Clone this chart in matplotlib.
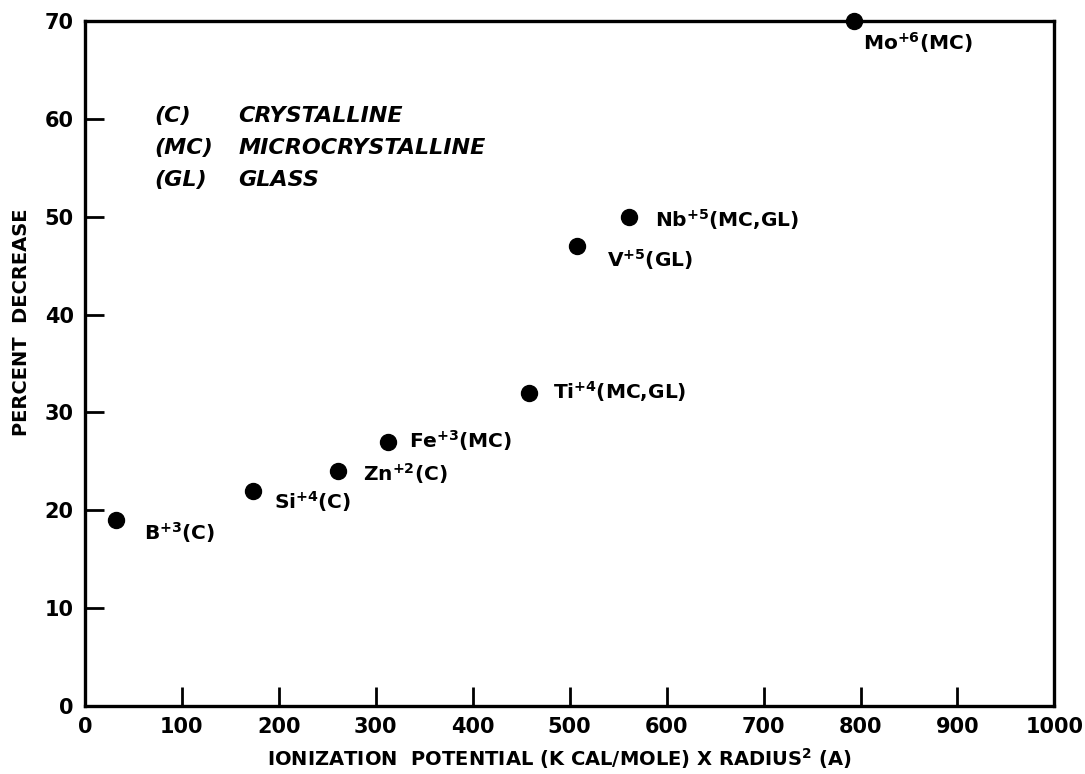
import matplotlib
matplotlib.use("Agg")
import matplotlib.pyplot as plt

plt.rcParams["font.family"] = ["DejaVu Sans"]
plt.rcParams["font.weight"] = "bold"
plt.rcParams["mathtext.default"] = "bf"

# ion data: ionization potential x radius^2, percent decrease
ions = ["B", "Si", "Zn", "Fe", "Ti", "V", "Nb", "Mo"]
charges = ["+3", "+4", "+2", "+3", "+4", "+5", "+5", "+6"]
phases = ["(C)", "(C)", "(C)", "(MC)", "(MC,GL)", "(GL)", "(MC,GL)", "(MC)"]
ip_r2 = [32, 173, 261, 313, 458, 508, 561, 793]
pct_decrease = [19, 22, 24, 27, 32, 47, 50, 70]

# label offsets in points (x, y) from point to text baseline
label_offsets = [(20, -14), (15, -13), (18, -7), (15, -4), (17, -4), (21, -15), (19, -7), (7, -21)]

legend_keys = ["(C)", "(MC)", "(GL)"]
legend_names = ["CRYSTALLINE", "MICROCRYSTALLINE", "GLASS"]

fig = plt.figure(figsize=(10.85, 7.74), dpi=100)
ax = fig.add_axes([0.0783, 0.0879, 0.8935, 0.885])

ax.plot(ip_r2, pct_decrease, "o", color="black", markersize=11.5,
        clip_on=False, zorder=5)

for i in range(len(ions)):
    label = ions[i] + "$^{" + charges[i] + "}$" + phases[i]
    ax.annotate(label, (ip_r2[i], pct_decrease[i]), xytext=label_offsets[i],
                textcoords="offset points", ha="left", va="baseline",
                fontsize=14.5, fontweight="bold")

# legend block
for k in range(3):
    yk = 60.3 - 3.3 * k
    ax.text(71, yk, legend_keys[k], fontsize=16, fontweight="bold",
            style="italic", va="center", ha="left")
    ax.text(158, yk, legend_names[k], fontsize=16, fontweight="bold",
            style="italic", va="center", ha="left")

ax.set_xlim(0, 1000)
ax.set_ylim(0, 70)
ax.set_xticks(range(0, 1001, 100))
ax.set_yticks(range(0, 71, 10))

ax.tick_params(direction="in", length=14, width=2, labelsize=15, pad=8,
               top=False, right=False)
for lab in ax.get_xticklabels() + ax.get_yticklabels():
    lab.set_fontweight("bold")

for side in ["left", "right", "top", "bottom"]:
    ax.spines[side].set_linewidth(2.4)

ax.set_xlabel("IONIZATION  POTENTIAL (K CAL/MOLE) X RADIUS$^{2}$ (A)",
              fontsize=14, fontweight="bold")
ax.set_ylabel("PERCENT  DECREASE", fontsize=14, fontweight="bold")
ax.xaxis.set_label_coords(0.49, -0.058)
ax.yaxis.set_label_coords(-0.056, 0.56)

fig.savefig("out.png", dpi=100)
